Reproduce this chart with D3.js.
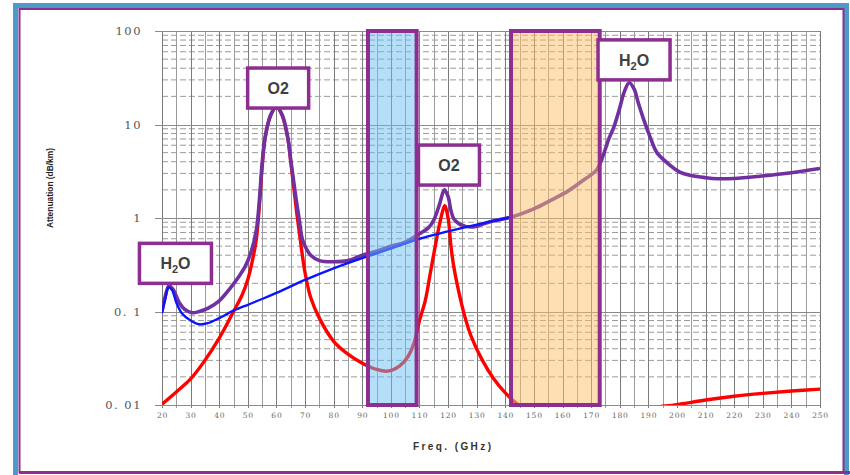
<!DOCTYPE html>
<html>
<head>
<meta charset="utf-8">
<script src="https://cdn.jsdelivr.net/npm/d3@7"></script>
<style>
  body { margin: 0; background: #fff; }
  svg { display: block; }
</style>
</head>
<body>
<svg id="chart" width="850" height="475"></svg>
<script>
// oxygen (red)
var o2Freq = [20, 25, 30, 35, 40, 45, 48, 50, 52, 53, 54, 55, 56, 58, 60, 62, 64, 65, 66, 67, 68, 70, 72, 75, 80, 85, 90, 95, 99, 103, 106, 108, 110, 112, 114, 116, 117.5, 118.8, 120, 121, 122, 124, 126, 128, 132, 136, 140, 145, 150, 160, 170, 180, 190, 200, 210, 220, 230, 240, 250];
var o2Val  = [0.0102, 0.0138, 0.019, 0.03, 0.052, 0.1, 0.15, 0.22, 0.4, 0.6, 1.3, 3.5, 7, 12.5, 15.5, 12.5, 7, 4, 2.2, 1.2, 0.7, 0.26, 0.14, 0.085, 0.048, 0.035, 0.028, 0.024, 0.023, 0.026, 0.033, 0.045, 0.08, 0.13, 0.28, 0.6, 1.0, 1.35, 1.0, 0.5, 0.3, 0.15, 0.085, 0.055, 0.03, 0.019, 0.0135, 0.0098, 0.008, 0.0065, 0.0068, 0.0078, 0.0092, 0.0101, 0.0113, 0.0124, 0.0133, 0.0141, 0.0148];

// water vapour (blue)
var h2oFreq = [20, 21, 22.3, 23.5, 25, 27, 30, 33, 36, 40, 45, 50, 55, 60, 70, 80, 90, 100, 110, 120, 130, 142];
var h2oVal  = [0.096, 0.13, 0.18, 0.17, 0.125, 0.095, 0.08, 0.073, 0.075, 0.085, 0.102, 0.118, 0.136, 0.158, 0.218, 0.29, 0.373, 0.47, 0.6, 0.72, 0.85, 1.02];

// total (purple)
var totFreq = [20, 21, 22.5, 24, 26, 28, 30.5, 33, 36, 40, 44, 47, 49, 51, 53, 54, 55, 56, 58, 60, 62, 64, 65, 66, 67, 68, 69, 70, 72, 75, 80, 85, 90, 95, 100, 105, 110, 113, 115, 117, 118.7, 120, 121, 122, 124, 128, 135, 142, 150, 156, 162, 167, 172, 175, 176, 178, 180, 181.5, 183.3, 185, 186.5, 188.5, 190.5, 193, 197, 201, 205, 210, 214, 220, 229, 240, 250];
var totVal  = [0.1, 0.14, 0.19, 0.17, 0.125, 0.105, 0.097, 0.1, 0.108, 0.13, 0.18, 0.24, 0.3, 0.42, 0.75, 1.5, 3.8, 7.2, 12.7, 15.7, 12.7, 7.2, 4.2, 2.5, 1.5, 0.95, 0.6, 0.5, 0.4, 0.35, 0.34, 0.35, 0.4, 0.44, 0.5, 0.55, 0.68, 0.78, 0.95, 1.4, 2.0, 1.7, 1.2, 0.98, 0.86, 0.8, 0.92, 1.02, 1.25, 1.55, 1.95, 2.5, 3.3, 5.5, 6.8, 9.5, 15, 22, 28, 24, 17, 11, 7.5, 5.0, 3.8, 3.1, 2.85, 2.7, 2.63, 2.65, 2.8, 3.05, 3.38];

// shaded windows
var bandStart = [92, 142];
var bandEnd   = [109, 173];
var bandFill  = ["#6cc0f4", "#fbc068"];

// peak labels: box centre freq, value at box bottom
var labelText = ["H2O", "O2", "O2", "H2O"];
var labelFreq = [24.7, 60.6, 120.3, 185];
var labelBase = [0.2, 15, 2.25, 30];

var xTicks = d3.range(20, 251, 10);
var yTicks = [0.01, 0.1, 1, 10, 100];
var yTickText = ["0. 01", "0. 1", "1", "10", "100"];

var svg = d3.select("#chart");
var frameBlue = "#4a9cc6";
var purple = "#8c2f90";

// outer frame
svg.append("rect")
    .attr("x", 15.5).attr("y", 5.5)
    .attr("width", 831).attr("height", 480)
    .attr("fill", "none")
    .attr("stroke", frameBlue)
    .attr("stroke-width", 5);
svg.append("rect")
    .attr("x", 19.5).attr("y", 9)
    .attr("width", 824).attr("height", 463)
    .attr("fill", "none")
    .attr("stroke", purple)
    .attr("stroke-width", 2);
svg.append("line")
    .attr("x1", 19).attr("x2", 850)
    .attr("y1", 472.5).attr("y2", 472.5)
    .attr("stroke", purple)
    .attr("stroke-width", 3);

var x = d3.scaleLinear().domain([20, 250]).range([162, 820]);
var y = d3.scaleLog().domain([0.01, 100]).range([405, 31]);

svg.append("clipPath").attr("id", "plotClip")
    .append("rect")
    .attr("x", x(20)).attr("y", y(100))
    .attr("width", x(250) - x(20))
    .attr("height", y(0.01) - y(100));

// grid
var grid = svg.append("g");
var minor = [];
[0.01, 0.1, 1, 10].forEach(function (d) {
    for (var k = 2; k <= 9; k++) minor.push(d * k);
});
grid.selectAll(".minor").data(minor).enter().append("line")
    .attr("x1", x(20)).attr("x2", x(250))
    .attr("y1", function (d) { return y(d); })
    .attr("y2", function (d) { return y(d); })
    .attr("stroke", "#9a9a9a")
    .attr("stroke-width", 1)
    .attr("stroke-dasharray", "6,3");
grid.selectAll(".vert").data(d3.range(20, 251, 5)).enter().append("line")
    .attr("x1", function (d) { return Math.round(x(d)) + 0.5; })
    .attr("x2", function (d) { return Math.round(x(d)) + 0.5; })
    .attr("y1", y(100))
    .attr("y2", y(0.01) + 3)
    .attr("stroke", function (d) { return d % 10 == 0 ? "#7a7a7a" : "#9c9c9c"; })
    .attr("stroke-width", 1);
grid.selectAll(".major").data(yTicks).enter().append("line")
    .attr("x1", x(20) - 7).attr("x2", x(250))
    .attr("y1", function (d) { return Math.round(y(d)) + 0.5; })
    .attr("y2", function (d) { return Math.round(y(d)) + 0.5; })
    .attr("stroke", "#8a8a8a")
    .attr("stroke-width", 1);

// curves
var line = d3.line()
    .x(function (d) { return x(d[0]); })
    .y(function (d) { return y(d[1]); })
    .curve(d3.curveCatmullRom.alpha(0.5));

var curves = svg.append("g").attr("clip-path", "url(#plotClip)");
function drawCurve(fr, val, color, w) {
    curves.append("path")
        .datum(d3.zip(fr, val))
        .attr("d", line)
        .attr("fill", "none")
        .attr("stroke", color)
        .attr("stroke-width", w)
        .attr("stroke-linejoin", "round");
}
drawCurve(o2Freq, o2Val, "#ff0000", 3.4);
drawCurve(totFreq, totVal, "#7030a0", 3.6);
drawCurve(h2oFreq, h2oVal, "#0a14ff", 2.4);

// bands on top, translucent
for (var i = 0; i < bandStart.length; i++) {
    svg.append("rect")
        .attr("x", x(bandStart[i]))
        .attr("y", y(100))
        .attr("width", x(bandEnd[i]) - x(bandStart[i]))
        .attr("height", y(0.01) - y(100))
        .attr("fill", bandFill[i])
        .attr("fill-opacity", 0.5)
        .attr("stroke", purple)
        .attr("stroke-width", 4);
}

// axis labels
svg.selectAll(".ytick").data(yTicks).enter().append("text")
    .attr("x", 142)
    .attr("y", function (d) { return y(d) + 4; })
    .attr("text-anchor", "end")
    .attr("font-family", "DejaVu Serif")
    .attr("font-size", 11.5)
    .attr("letter-spacing", 1.5)
    .attr("fill", "#555")
    .text(function (d, i) { return yTickText[i]; });

svg.selectAll(".xtick").data(xTicks).enter().append("text")
    .attr("x", function (d) { return x(d) + 0.5; })
    .attr("y", 418)
    .attr("text-anchor", "middle")
    .attr("font-family", "DejaVu Serif")
    .attr("font-size", 7.5)
    .attr("letter-spacing", 0.8)
    .attr("fill", "#666")
    .text(function (d) { return d; });

svg.append("text")
    .attr("transform", "translate(53,188) rotate(-90)")
    .attr("text-anchor", "middle")
    .attr("font-family", "Liberation Sans Narrow, Liberation Sans")
    .attr("font-weight", "bold")
    .attr("font-size", 9)
    .attr("textLength", 80)
    .attr("lengthAdjust", "spacingAndGlyphs")
    .attr("fill", "#222")
    .text("Attenuation (dB/km)");

svg.append("text")
    .attr("x", 452).attr("y", 450)
    .attr("text-anchor", "middle")
    .attr("font-family", "Liberation Sans")
    .attr("font-weight", "bold")
    .attr("font-size", 10)
    .attr("textLength", 78)
    .attr("lengthAdjust", "spacing")
    .attr("fill", "#333")
    .text("Freq. (GHz)");

// peak labels
for (var j = 0; j < labelText.length; j++) {
    var isWater = labelText[j] == "H2O";
    var bw = isWater ? 72 : 61, bh = 40;
    var cx = x(labelFreq[j]), by = y(labelBase[j]);
    var g = svg.append("g");
    g.append("rect")
        .attr("x", cx - bw / 2).attr("y", by - bh)
        .attr("width", bw).attr("height", bh)
        .attr("fill", "#fff")
        .attr("stroke", purple)
        .attr("stroke-width", 3.5);
    var t = g.append("text")
        .attr("x", cx).attr("y", by - bh / 2 + 6)
        .attr("text-anchor", "middle")
        .attr("font-family", "Liberation Sans, Arial")
        .attr("font-weight", "bold")
        .attr("font-size", 16)
        .attr("fill", "#404040");
    if (isWater) {
        t.append("tspan").text("H");
        t.append("tspan").attr("font-size", 11).attr("dy", 4).text("2");
        t.append("tspan").attr("dy", -4).text("O");
    } else {
        t.text(labelText[j]);
    }
}
</script>
</body>
</html>
